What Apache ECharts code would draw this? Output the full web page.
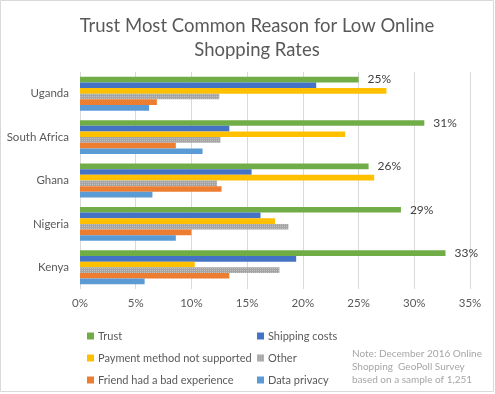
<!DOCTYPE html>
<html>
<head>
<meta charset="utf-8">
<script src="https://cdn.jsdelivr.net/npm/echarts@6/dist/echarts.min.js"></script>
<style>
html,body{margin:0;padding:0;background:#fff;}
#chart{width:495px;height:394px;}
</style>
</head>
<body>
<div id="chart"></div>
<script>
var countries = ['Uganda', 'South Africa', 'Ghana', 'Nigeria', 'Kenya'];
var seriesNames = ['Trust', 'Shipping costs', 'Payment method not supported', 'Other', 'Friend had a bad experience', 'Data privacy'];
var trust = [25.0, 30.9, 25.9, 28.8, 32.8];
var shipping = [21.2, 13.4, 15.4, 16.2, 19.4];
var payment = [27.5, 23.8, 26.4, 17.5, 10.3];
var other = [12.5, 12.6, 12.3, 18.7, 17.9];
var friend = [6.9, 8.6, 12.7, 10.0, 13.4];
var privacy = [6.2, 11.0, 6.5, 8.6, 5.8];
var xTicks = [0, 5, 10, 15, 20, 25, 30, 35];
var colors = ['#70ad47', '#4472c4', '#ffc000', '#a5a5a5', '#ed7d31', '#5b9bd5'];
var values = [trust, shipping, payment, other, friend, privacy];

var chart = echarts.init(document.getElementById('chart'));
var FONT = 'Lato';
var series = seriesNames.map(function (name, i) {
  var s = {
    name: name,
    type: 'bar',
    data: values[i],
    barGap: '0%',
    barCategoryGap: '22%',
    itemStyle: { color: colors[i] },
    emphasis: { disabled: true }
  };
  if (i === 0) {
    s.label = {
      show: true,
      position: 'right',
      distance: 9,
      color: '#404040',
      fontFamily: FONT,
      fontSize: 12,
      formatter: function (p) { return Math.round(p.value) + '%'; }
    };
  }
  if (i === 3) {
    s.itemStyle.decal = {
      symbol: 'rect',
      symbolSize: 1,
      dashArrayX: [1, 1],
      dashArrayY: [1, 1],
      color: 'rgba(255,255,255,0.3)'
    };
  }
  return s;
});

var legendText = { color: '#595959', fontFamily: FONT, fontSize: 11, lineHeight: 14, padding: [0, 0, 0, -1] };
chart.setOption({
  animation: false,
  title: {
    text: 'Trust Most Common Reason for Low Online\nShopping Rates',
    left: 252,
    textAlign: 'center',
    top: 9,
    textStyle: { color: '#595959', fontFamily: FONT, fontSize: 18.5, fontWeight: 'normal', lineHeight: 24 }
  },
  grid: { left: 80, right: 25, top: 72, bottom: 105, containLabel: false },
  xAxis: {
    type: 'value',
    min: 0,
    max: 35,
    interval: 5,
    axisLine: { show: false },
    axisTick: { show: false },
    splitLine: { lineStyle: { color: '#d9d9d9', width: 1 } },
    axisLabel: {
      color: '#595959', fontFamily: FONT, fontSize: 11.5, margin: 8,
      formatter: function (v) { return v + '%'; }
    }
  },
  yAxis: {
    type: 'category',
    data: countries,
    inverse: true,
    axisLine: { show: false },
    axisTick: { show: false },
    axisLabel: { color: '#595959', fontFamily: FONT, fontSize: 11.5, margin: 11 }
  },
  legend: [
    {
      data: [seriesNames[0], seriesNames[2], seriesNames[4]],
      orient: 'vertical',
      left: 82, top: 324,
      itemWidth: 7, itemHeight: 7, itemGap: 8,
      icon: 'rect',
      selectedMode: false,
      textStyle: legendText
    },
    {
      data: [seriesNames[1], seriesNames[3], seriesNames[5]],
      orient: 'vertical',
      left: 252, top: 324,
      itemWidth: 7, itemHeight: 7, itemGap: 8,
      icon: 'rect',
      selectedMode: false,
      textStyle: legendText
    }
  ],
  graphic: [
    {
      type: 'rect',
      shape: { x: 0.5, y: 0.5, width: 493, height: 391 },
      style: { fill: 'none', stroke: '#d9d9d9', lineWidth: 1 },
      silent: true
    },
    {
      type: 'text',
      left: 352, top: 347,
      style: {
        text: 'Note: December 2016 Online\nShopping  GeoPoll Survey\nbased on a sample of 1,251',
        fill: '#a6a6a6', fontFamily: FONT, fontSize: 10, lineHeight: 13
      },
      silent: true
    }
  ],
  series: series
});
</script>
</body>
</html>
